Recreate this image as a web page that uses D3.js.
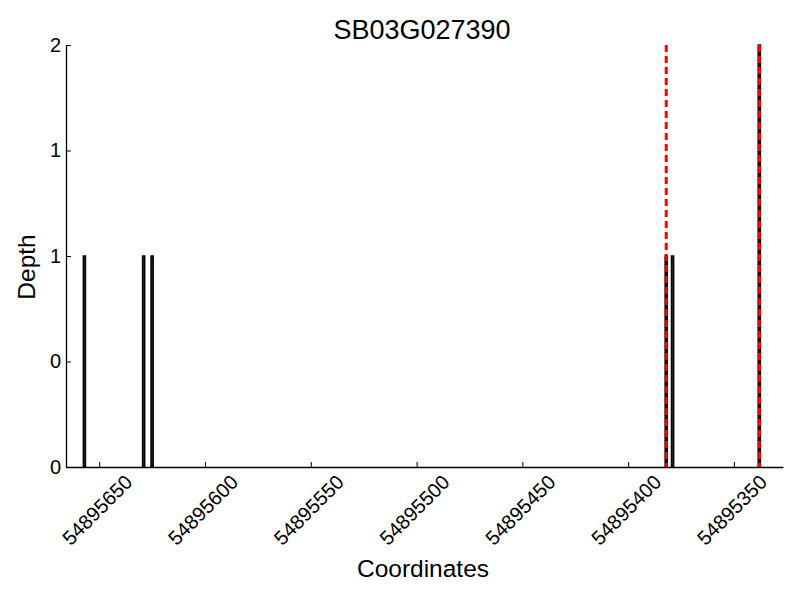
<!DOCTYPE html>
<html><head><meta charset="utf-8">
<script src="https://cdn.jsdelivr.net/npm/d3@7"></script>
<style>body{margin:0;background:#fff}text{font-family:"Liberation Sans",Arial,sans-serif}</style>
</head><body>
<svg id="c" width="800" height="600"></svg>
<script>
const title = "SB03G027390";
const positions = [54895657, 54895629, 54895625, 54895382, 54895379, 54895338];
const depths = [1, 1, 1, 1, 1, 2];
const markerPositions = [54895382, 54895338];
const xTicks = [54895650, 54895600, 54895550, 54895500, 54895450, 54895400, 54895350];
const yTicks = [0, 0.5, 1, 1.5, 2];
const xDomain = [54895665.7, 54895326.8];
const yDomain = [0, 2];

const svg = d3.select("#c");
const m = {l: 66, r: 783, t: 45, b: 467};
const x = d3.scaleLinear().domain(xDomain).range([m.l, m.r]);
const y = d3.scaleLinear().domain(yDomain).range([m.b, m.t]);

// bars
const bw = 1;
svg.append("g").selectAll("rect").data(positions).join("rect")
  .attr("x", d => Math.min(x(d - bw/2), x(d + bw/2)))
  .attr("width", Math.abs(x(0) - x(bw)))
  .attr("y", (d, i) => y(depths[i]))
  .attr("height", (d, i) => y(0) - y(depths[i]))
  .attr("fill", "#333").attr("stroke", "#000").attr("stroke-width", 1.5);

// red dashed markers
svg.append("g").selectAll("line").data(markerPositions).join("line")
  .attr("x1", d => x(d)).attr("x2", d => x(d))
  .attr("y1", y(2)).attr("y2", y(0))
  .attr("stroke", "#ff0000").attr("stroke-width", 3).attr("stroke-dasharray", "7,4");

// x axis
const xa = svg.append("g").attr("transform", `translate(0,${m.b})`)
  .call(d3.axisBottom(x).tickValues(xTicks).tickSizeInner(-5).tickSizeOuter(0).tickFormat(""));
xa.select(".domain").attr("stroke", "#000").attr("stroke-width", 1.3);
xa.selectAll(".tick line").attr("stroke", "#000");
svg.append("g").selectAll("text").data(xTicks).join("text")
  .attr("transform", d => `translate(${x(d) - 2},510) rotate(-45)`)
  .attr("text-anchor", "middle").attr("dominant-baseline", "central")
  .attr("font-size", 20).text(d => d3.format("d")(d));

// y axis
const ya = svg.append("g").attr("transform", `translate(${m.l},0)`)
  .call(d3.axisLeft(y).tickValues(yTicks).tickSizeInner(-5).tickSizeOuter(0)
  .tickFormat(d => String(Math.trunc(d))));
ya.select(".domain").attr("stroke", "#000").attr("stroke-width", 1.3);
ya.selectAll(".tick line").attr("stroke", "#000");
ya.selectAll(".tick text").attr("font-size", 20).attr("fill", "#000")
  .attr("font-family", "Liberation Sans, Arial, sans-serif").attr("x", -5);

// labels
svg.append("text").attr("x", 422).attr("y", 39).attr("text-anchor", "middle")
  .attr("font-size", 27).text(title);
svg.append("text").attr("x", 423).attr("y", 577).attr("text-anchor", "middle")
  .attr("font-size", 24.5).text("Coordinates");
svg.append("text").attr("transform", "translate(35,267) rotate(-90)").attr("text-anchor", "middle")
  .attr("font-size", 24.5).text("Depth");
</script>
</body></html>
